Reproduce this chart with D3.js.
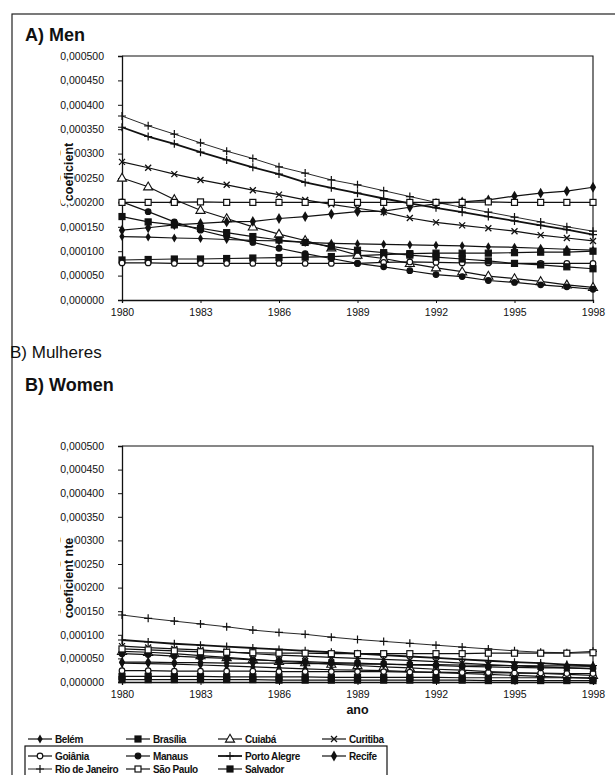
<!DOCTYPE html>
<html>
<head>
  <meta charset="UTF-8">
  <style>
    body { margin: 0; background: white; }
    svg { display: block; }
    .tick text { font-family: "Liberation Sans", Arial, sans-serif; font-size: 10.5px; fill: #111; }
    .domain, .tick line { stroke: #111; }
    .title { font-family: "Liberation Sans", Arial, sans-serif; font-weight: bold; font-size: 18px; fill: #111; }
    .subtitle { font-family: "Liberation Sans", Arial, sans-serif; font-size: 17px; fill: #111; }
    .axlabel { font-family: "Liberation Sans", Arial, sans-serif; font-weight: bold; font-size: 12.5px; fill: #111; }
    .legend text { font-family: "Liberation Sans", Arial, sans-serif; font-weight: bold; font-size: 10px; letter-spacing: -0.4px; fill: #111; }
  </style>
</head>
<body>
<div id="chart"></div>
<script src="https://d3js.org/d3.v7.min.js"></script>
<script>

// years on the x axis
const years = d3.range(1980, 1999);
const xTicks = [1980, 1983, 1986, 1989, 1992, 1995, 1998];
const yTicks = [0, 0.00005, 0.0001, 0.00015, 0.0002, 0.00025, 0.0003, 0.00035, 0.0004, 0.00045, 0.0005];

const cities = ["Belém", "Brasília", "Cuiabá", "Curitiba", "Goiânia", "Manaus",
                "Porto Alegre", "Recife", "Rio de Janeiro", "São Paulo", "Salvador"];

// A) Men, values in 1e-6
const menBelem     = [130,129,127,126,124,122,121,118,116,115,114,113,112,111,109,108,106,104,102];
const menBrasilia  = [82,83,84,84,85,86,87,88,89,91,93,95,96,96,96,97,98,98,100];
const menCuiaba    = [250,232,206,184,167,150,135,122,107,92,85,75,66,58,49,44,38,31,26];
const menCuritiba  = [283,271,258,246,236,225,216,205,196,188,180,168,159,153,147,141,133,127,121];
const menGoiania   = [76,76,75,75,75,75,75,75,75,75,77,78,77,76,76,75,75,75,75];
const menManaus    = [201,181,160,143,130,118,106,95,85,75,68,60,52,48,40,36,31,27,22];
const menPortoAl   = [354,335,320,303,287,272,258,241,230,219,208,198,189,180,171,162,153,144,134];
const menRecife    = [143,148,154,157,160,161,167,171,176,181,182,190,197,201,205,213,219,223,231];
const menRio       = [377,357,340,322,305,290,273,260,246,236,224,212,200,190,180,170,160,150,141];
const menSaoPaulo  = [200,200,200,201,200,200,200,200,200,200,200,200,200,200,201,200,200,200,200];
const menSalvador  = [171,160,154,147,138,130,123,118,110,102,97,92,88,84,80,75,72,68,64];

// B) Women, values in 1e-6
const womBelem     = [40,39,38,36,34,32,30,28,26,25,24,22,20,18,16,14,12,10,8];
const womBrasilia  = [12,12,12,12,11,11,11,11,10,10,10,10,10,9,9,9,9,9,8];
const womCuiaba    = [65,63,60,56,52,48,44,41,38,35,32,30,27,25,22,20,18,16,14];
const womCuritiba  = [76,73,70,68,64,60,57,55,52,50,48,46,43,40,37,34,32,30,28];
const womGoiania   = [24,24,23,23,23,23,22,22,22,22,22,21,21,20,20,19,19,18,18];
const womManaus    = [60,58,55,52,50,47,45,43,41,40,38,36,35,33,32,31,30,30,29];
const womPortoAl   = [89,85,81,78,75,72,69,66,63,60,57,54,51,48,45,42,40,37,35];
const womRecife    = [42,42,41,41,40,40,40,39,39,38,38,37,37,36,35,35,34,34,33];
const womRio       = [142,135,129,123,117,110,105,101,95,90,86,82,78,74,70,66,63,62,65];
const womSaoPaulo  = [70,68,66,64,63,62,61,61,60,60,60,60,60,60,61,61,61,61,62];
const womSalvador  = [5,5,5,5,5,5,4,4,4,4,4,4,4,4,3,3,3,3,3];

const menSeries = [menBelem, menBrasilia, menCuiaba, menCuritiba, menGoiania, menManaus,
                   menPortoAl, menRecife, menRio, menSaoPaulo, menSalvador];
const womSeries = [womBelem, womBrasilia, womCuiaba, womCuritiba, womGoiania, womManaus,
                   womPortoAl, womRecife, womRio, womSaoPaulo, womSalvador];

// marker type per city
const markers = ["smalldiamond", "fsquare", "otriangle", "times", "ocircle", "fcircle",
                 "plus", "fdiamond", "plus", "osquare", "fsquare"];
const lineW = [1.2, 1.2, 1.2, 1.2, 1.2, 1.2, 1.8, 1.2, 0.9, 1.2, 1.2];

const W = 615, H = 775;
const svg = d3.select("#chart").append("svg").attr("width", W).attr("height", H);

// outer frame
svg.append("rect").attr("x", 12).attr("y", 14).attr("width", 640).attr("height", 800)
   .attr("fill", "none").attr("stroke", "#222").attr("stroke-width", 1.2);

function drawMarker(g, type, x, y) {
  const s = 3;
  if (type == "fcircle" || type == "ocircle") {
    g.append("circle").attr("cx", x).attr("cy", y).attr("r", 2.8)
     .attr("fill", type == "fcircle" ? "#111" : "white").attr("stroke", "#111").attr("stroke-width", 1.2);
  } else if (type == "fsquare" || type == "osquare") {
    g.append("rect").attr("x", x - s).attr("y", y - s).attr("width", 2 * s).attr("height", 2 * s)
     .attr("fill", type == "fsquare" ? "#111" : "white").attr("stroke", "#111").attr("stroke-width", 1.2);
  } else if (type == "otriangle") {
    g.append("path").attr("d", d3.symbol().type(d3.symbolTriangle).size(36)())
     .attr("transform", `translate(${x},${y + 0.5})`)
     .attr("fill", "white").attr("stroke", "#111").attr("stroke-width", 1.1);
  } else if (type == "smalldiamond" || type == "fdiamond") {
    g.append("path").attr("d", d3.symbol().type(d3.symbolDiamond).size(type == "fdiamond" ? 34 : 24)())
     .attr("transform", `translate(${x},${y})`).attr("fill", "#111");
  } else if (type == "times") {
    const p = d3.path();
    p.moveTo(x - s, y - s); p.lineTo(x + s, y + s);
    p.moveTo(x - s, y + s); p.lineTo(x + s, y - s);
    g.append("path").attr("d", p.toString()).attr("stroke", "#111").attr("stroke-width", 1.3);
  } else if (type == "plus") {
    const p = d3.path();
    p.moveTo(x - 4, y); p.lineTo(x + 4, y);
    p.moveTo(x, y - 4); p.lineTo(x, y + 4);
    g.append("path").attr("d", p.toString()).attr("stroke", "#111").attr("stroke-width", 1.2);
  }
}

function drawPanel(series, top, bottom, ylabel, labelX, labelY) {
  const x = d3.scaleLinear().domain([1980, 1998]).range([122, 593]);
  const y = d3.scaleLinear().domain([0, 0.0005]).range([bottom, top]);
  const g = svg.append("g");

  // plot box: top + right border
  g.append("path")
   .attr("d", `M${x(1980)},${y(0.0005)}H${x(1998)}V${y(0)}`)
   .attr("fill", "none").attr("stroke", "#111").attr("stroke-width", 1.1);

  g.append("g").attr("transform", `translate(${x(1980)},0)`)
   .call(d3.axisLeft(y).tickValues(yTicks).tickSize(4).tickPadding(14)
     .tickFormat(d => d3.format(".6f")(d).replace(".", ",")))
   .call(a => a.select(".domain").attr("stroke-width", 1.3));

  g.append("g").attr("transform", `translate(0,${y(0)})`)
   .call(d3.axisBottom(x).tickValues(xTicks).tickSize(3).tickPadding(6).tickFormat(d3.format("d")))
   .call(a => a.select(".domain").attr("stroke-width", 1.3));

  const line = d3.line().x((d, i) => x(years[i])).y(d => y(d * 1e-6));

  series.forEach((vals, k) => {
    g.append("path").datum(vals).attr("d", line)
     .attr("fill", "none").attr("stroke", "#111").attr("stroke-width", lineW[k]);
  });
  series.forEach((vals, k) => {
    vals.forEach((v, i) => drawMarker(g, markers[k], x(years[i]), y(v * 1e-6)));
  });

  // axis title sits over the start of the tick labels, like the scan
  const t = g.append("text").attr("class", "axlabel")
   .attr("transform", `translate(${labelX},${labelY}) rotate(-90)`)
   .attr("text-anchor", "middle").text(ylabel);
  const bb = t.node().getBBox();
  g.insert("rect", "text.axlabel")
   .attr("x", labelX - bb.height + 2).attr("y", labelY - bb.width / 2 - 2)
   .attr("width", bb.height - 1).attr("height", bb.width + 4).attr("fill", "white");
  return x;
}

// A) Men
svg.append("text").attr("class", "title").attr("x", 25).attr("y", 41).text("A) Men");
drawPanel(menSeries, 56, 300, "coeficient", 73, 172);

// B) Women
svg.append("text").attr("class", "subtitle").attr("x", 10).attr("y", 358).text("B) Mulheres");
svg.append("text").attr("class", "title").attr("x", 25).attr("y", 391).text("B) Women");
const xB = drawPanel(womSeries, 446, 682, "coeficient nte", 73, 578);
svg.append("text").attr("class", "axlabel").attr("x", xB(1989)).attr("y", 714)
   .attr("text-anchor", "middle").text("ano");

// legend
const lg = svg.append("g").attr("class", "legend");
lg.append("rect").attr("x", 25).attr("y", 746).attr("width", 362).attr("height", 60)
  .attr("fill", "none").attr("stroke", "#111").attr("stroke-width", 1.2);
const colX = [28, 126, 218, 322];
const rowY = [739, 756, 769];
cities.forEach((c, k) => {
  const cx = colX[k % 4], cy = rowY[Math.floor(k / 4)];
  lg.append("line").attr("x1", cx).attr("x2", cx + 24).attr("y1", cy).attr("y2", cy)
    .attr("stroke", "#111").attr("stroke-width", lineW[k]);
  drawMarker(lg, markers[k], cx + 12, cy);
  lg.append("text").attr("x", cx + 27).attr("y", cy + 4).text(c);
});

</script>
</body>
</html>
